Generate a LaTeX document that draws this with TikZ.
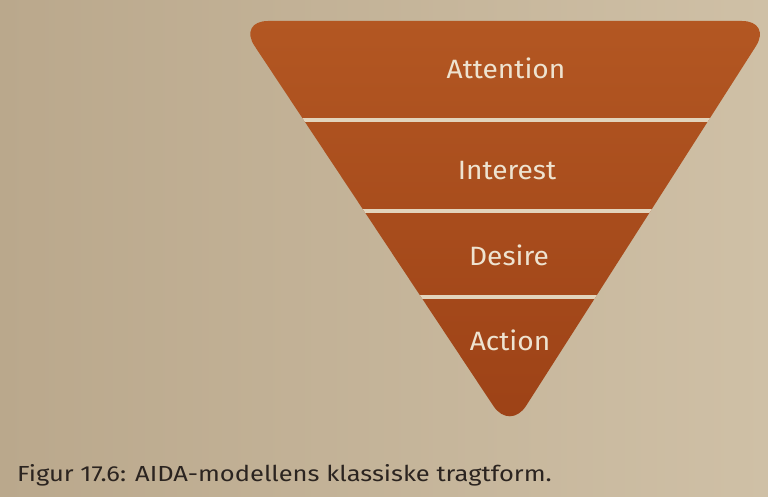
\documentclass[tikz,border=0pt]{standalone}
\usepackage{fontspec}
\setmainfont{Fira Sans}
\newfontfamily\stagefont[FakeStretch=1.06]{Fira Sans}
\newfontfamily\capfont[FakeStretch=1.17]{Fira Sans}
\definecolor{bgL}{HTML}{BAA88C}
\definecolor{bgR}{HTML}{CFC0A6}
\definecolor{funTop}{HTML}{B45823}
\definecolor{funBot}{HTML}{9C4116}
\definecolor{gapcol}{HTML}{E2D4BC}
\definecolor{labcol}{HTML}{EEE3D0}
\definecolor{capcol}{HTML}{2B2420}
\tikzset{
  stagelabel/.style={text=labcol, font=\stagefont\fontsize{26.5}{30}\selectfont, inner sep=0pt, anchor=base},
  gapline/.style={draw=gapcol, line width=3.2pt},
  captiontext/.style={text=capcol, font=\capfont\fontsize{21.8}{25}\selectfont, inner sep=0pt, anchor=base west}
}
\begin{document}
\begin{tikzpicture}[x=1pt,y=-1pt]
  \useasboundingbox (0,0) rectangle (768,497);
  \shade[left color=bgL, right color=bgR] (0,0) rectangle (768,497);
  \begin{scope}
    \clip[rounded corners=30] (238,21) -- (772,21) -- (510,431) -- cycle;
    \shade[top color=funTop, bottom color=funBot] (200,0) rectangle (800,440);
    \draw[gapline] (200,120) -- (800,120);
    \draw[gapline] (200,211) -- (800,211);
    \draw[gapline] (200,297) -- (800,297);
  \end{scope}
  \node[stagelabel] (attention) at (506,79) {Attention};
  \node[stagelabel] (interest) at (507,180) {Interest};
  \node[stagelabel] (desire) at (509,265) {Desire};
  \node[stagelabel] (action) at (510,350) {Action};
  \node[captiontext] (caption) at (17,481) {Figur 17.6: AIDA-modellens klassiske tragtform.};
\end{tikzpicture}
\end{document}
